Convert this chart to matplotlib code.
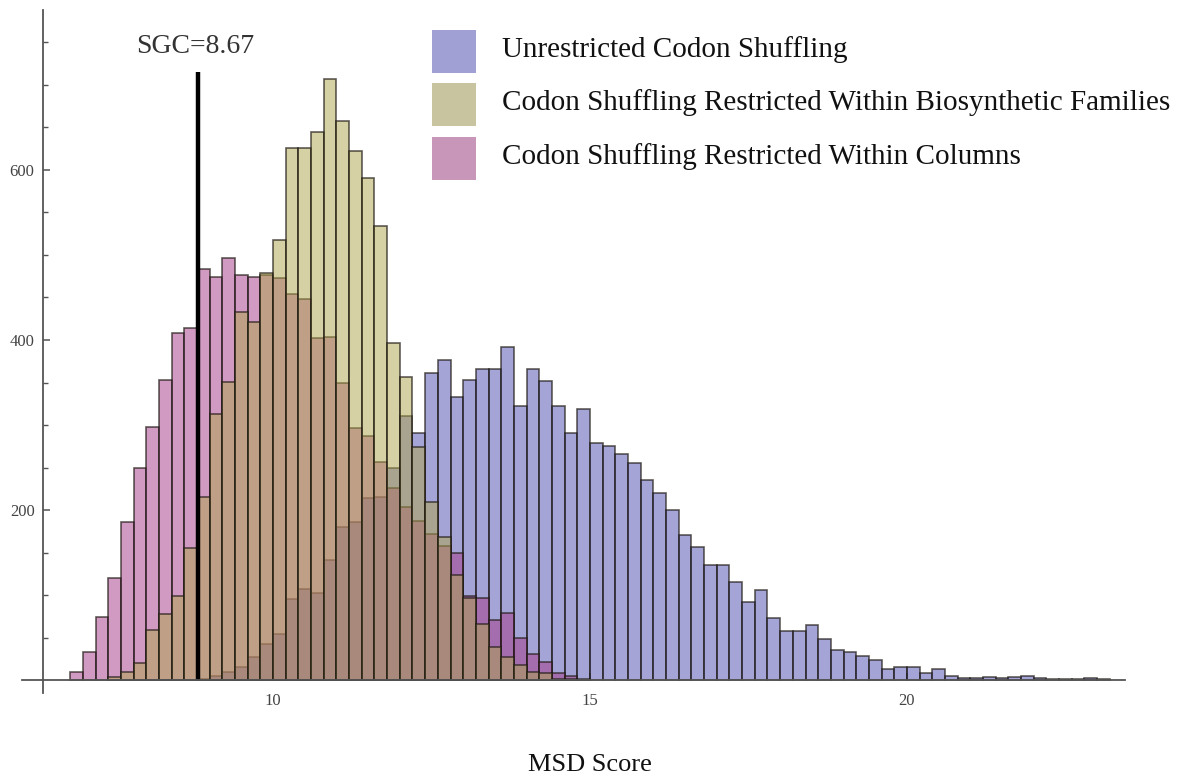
import numpy as np
import matplotlib
matplotlib.use("Agg")
import matplotlib.pyplot as plt
from matplotlib.patches import Rectangle

plt.rcParams['font.family'] = ['Liberation Serif', 'DejaVu Serif']

# histogram bins are 0.2 wide
bin_width = 0.2

# Unrestricted Codon Shuffling, first bin starts at 8.8
unrestricted_start = 8.8
unrestricted = [2, 5, 10, 16, 27, 43, 54, 95, 107, 102,
                141, 180, 186, 214, 216, 249, 311, 291, 361, 376,
                333, 353, 366, 366, 392, 323, 366, 352, 322, 291,
                319, 279, 275, 266, 255, 236, 220, 200, 171, 157,
                135, 135, 116, 92, 106, 73, 58, 58, 65, 49,
                35, 33, 28, 24, 13, 16, 16, 8, 13, 5,
                3, 3, 4, 3, 4, 5, 3, 1, 2, 1,
                3, 1]

# Codon Shuffling Restricted Within Biosynthetic Families, first bin 7.4
families_start = 7.4
families = [4, 10, 20, 59, 78, 99, 155, 216, 313, 351,
            433, 421, 479, 518, 626, 626, 644, 707, 657, 622,
            591, 534, 396, 357, 274, 209, 168, 124, 97, 66,
            39, 27, 18, 10, 8, 2, 1]

# Codon Shuffling Restricted Within Columns, first bin 6.8
columns_start = 6.8
columns = [10, 33, 74, 120, 186, 250, 298, 353, 408, 414,
           483, 474, 497, 476, 474, 476, 473, 454, 448, 402,
           403, 350, 296, 287, 256, 226, 204, 187, 172, 158,
           150, 99, 97, 71, 79, 50, 31, 22, 9, 5,
           2]

labels = ["Unrestricted Codon Shuffling",
          "Codon Shuffling Restricted Within Biosynthetic Families",
          "Codon Shuffling Restricted Within Columns"]

sgc_line_x = 8.82
sgc_line_top = 715
sgc_label = "SGC=8.67"

# colours (alpha blended like the original)
col_blue = (75/255, 75/255, 175/255, 0.5)
col_yellow = (175/255, 165/255, 75/255, 0.5)
col_pink = (165/255, 55/255, 135/255, 0.5)
edge = (0.12, 0.1, 0.08, 0.7)

fig = plt.figure(figsize=(11.82, 7.83), dpi=100)
ax = fig.add_axes([22/1182, 1 - 693/783, 1103/1182, 683/783])

def edges(start, vals):
    return start + bin_width * np.arange(len(vals))

# order: blue, pink, then yellow on top
ax.bar(edges(unrestricted_start, unrestricted), unrestricted, width=bin_width,
       align='edge', facecolor=col_blue, edgecolor=edge, linewidth=1.2, zorder=2)
ax.bar(edges(columns_start, columns), columns, width=bin_width,
       align='edge', facecolor=col_pink, edgecolor=edge, linewidth=1.2, zorder=3)
ax.bar(edges(families_start, families), families, width=bin_width,
       align='edge', facecolor=col_yellow, edgecolor=edge, linewidth=1.2, zorder=4)

# SGC marker
ax.plot([sgc_line_x, sgc_line_x], [0, sgc_line_top], color='black', lw=3.2, zorder=6,
        solid_capstyle='butt')
ax.text(8.77, 738, sgc_label, ha='center', va='baseline', fontsize=20, color='#333333')

# axes in the Mathematica style
ax.set_xlim(6.04, 23.44)
ax.set_ylim(-15, 788)
ax.spines['top'].set_visible(False)
ax.spines['right'].set_visible(False)
ax.spines['left'].set_position(('data', 6.37))
ax.spines['bottom'].set_position(('data', 0))
for s in ['left', 'bottom']:
    ax.spines[s].set_color('#555555')
    ax.spines[s].set_linewidth(1.3)
    ax.spines[s].set_zorder(7)
ax.set_axisbelow(True)

ax.set_xticks([10, 15, 20])
ax.set_yticks([200, 400, 600])
ax.set_yticks([50, 100, 150, 250, 300, 350, 450, 500, 550, 650, 700, 750], minor=True)
ax.tick_params(axis='both', which='major', direction='in', color='#555555',
               labelcolor='#444444', labelsize=12)
ax.tick_params(axis='y', which='major', length=5, width=1.1, pad=6)
ax.tick_params(axis='y', which='minor', direction='in', length=3.5, width=1.0, color='#555555')
ax.tick_params(axis='x', which='major', length=5, width=1.1, pad=9)

fig.text(590/1182, 1 - 765/783, "MSD Score", ha='center', va='center', fontsize=19,
         color='#111111')

# legend drawn by hand: big swatches like the original
swatch_cols = [(0.38, 0.38, 0.72, 0.6), (0.62, 0.58, 0.32, 0.55), (0.6, 0.25, 0.5, 0.55)]
row_tops = [30, 83, 137]
W, H = 1182, 783
for lab, c, top in zip(labels, swatch_cols, row_tops):
    fig.patches.append(Rectangle((432/W, 1 - (top + 43)/H), 44/W, 43/H, facecolor=c,
                                 edgecolor='none', transform=fig.transFigure, figure=fig))
    fig.text(502/W, 1 - (top + 20)/H, lab, ha='left', va='center', fontsize=21, color='#111111')

fig.savefig("out.png", dpi=100)
